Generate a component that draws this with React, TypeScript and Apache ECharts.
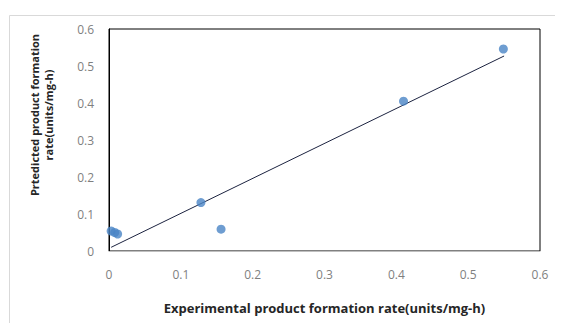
import React, { useEffect, useRef } from "react";
import * as echarts from "echarts";

const expX = [0.003, 0.008, 0.012, 0.128, 0.156, 0.41, 0.549];
const predY = [0.054, 0.05, 0.046, 0.131, 0.059, 0.405, 0.546];
const trendX = [0.003, 0.55];
const trendY = [0.01, 0.527];
const xTicks = [0, 0.1, 0.2, 0.3, 0.4, 0.5, 0.6];
const yTicks = [0, 0.1, 0.2, 0.3, 0.4, 0.5, 0.6];
const xTitle = "Experimental product formation rate(units/mg-h)";
const yTitle = ["Prtedicted product formation", "rate(units/mg-h)"];

const FONT = "'Open Sans', 'Noto Sans', sans-serif";

export default function App() {
  const ref = useRef<HTMLDivElement>(null);
  useEffect(() => {
    if (!ref.current) return;
    const chart = echarts.init(ref.current, undefined, { renderer: "svg" });
    const fmt = (v: number) => {
      const r = Math.round(v * 10) / 10;
      return r === 0 ? "0" : String(r);
    };
    chart.setOption({
      animation: false,
      backgroundColor: "#ffffff",
      grid: {
        left: 109,
        right: 23,
        top: 29,
        bottom: 80,
        show: true,
        borderColor: "#000000",
        borderWidth: 1,
      },
      xAxis: {
        type: "value",
        min: xTicks[0],
        max: xTicks[xTicks.length - 1],
        interval: 0.1,
        splitLine: { show: false },
        axisTick: { show: false },
        axisLine: { show: true, lineStyle: { color: "#bfbfbf", width: 1 } },
        axisLabel: {
          margin: 17,
          color: "#7f7f7f",
          fontSize: 12,
          fontFamily: FONT,
          formatter: fmt,
        },
        name: xTitle,
        nameLocation: "middle",
        nameGap: 50,
        nameTextStyle: {
          color: "#262626",
          fontSize: 13,
          fontWeight: "bold",
          fontFamily: FONT,
        },
      },
      yAxis: {
        type: "value",
        min: yTicks[0],
        max: yTicks[yTicks.length - 1],
        interval: 0.1,
        splitLine: { show: false },
        axisTick: { show: false },
        axisLine: { show: true, lineStyle: { color: "#000000", width: 1 } },
        axisLabel: {
          margin: 15,
          color: "#7f7f7f",
          fontSize: 12,
          fontFamily: FONT,
          formatter: fmt,
        },
      },
      graphic: [
        {
          type: "rect",
          left: 7,
          top: 13,
          shape: { width: 600, height: 400 },
          style: { fill: "none", stroke: "#d9d9d9", lineWidth: 1 },
          silent: true,
          z: -1,
        },
        {
          type: "text",
          x: 41,
          y: 115,
          rotation: Math.PI / 2,
          style: {
            text: yTitle.join("\n"),
            fill: "#262626",
            font: `bold 11px ${FONT}`,
            align: "center",
            verticalAlign: "middle",
            lineHeight: 14,
          },
        },
      ],
      series: [
        {
          type: "line",
          data: trendX.map((x, i) => [x, trendY[i]]),
          symbol: "none",
          lineStyle: { color: "#1c2340", width: 1 },
          z: 1,
        },
        {
          type: "scatter",
          data: expX.map((x, i) => [x, predY[i]]),
          symbolSize: 9,
          itemStyle: { color: "#4a84c6" },
          z: 2,
        },
      ],
    });
    return () => chart.dispose();
  }, []);
  return <div ref={ref} style={{ width: 563, height: 331, margin: -8 }} />;
}
